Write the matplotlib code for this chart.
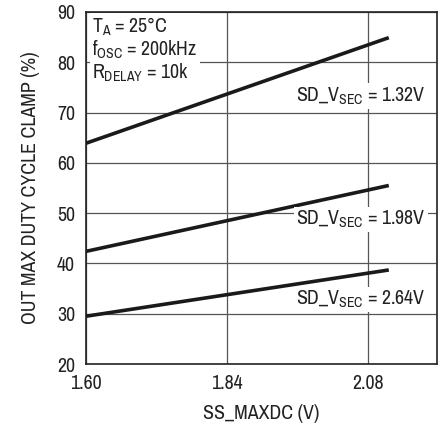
import matplotlib
matplotlib.use("Agg")
import numpy as np
from matplotlib import pyplot as plt
from matplotlib import font_manager

# data
ss_maxdc = [1.60, 2.115]
clamp_132 = [63.9, 84.9]
clamp_198 = [42.4, 55.5]
clamp_264 = [29.5, 38.7]
labels = ['1.32V', '1.98V', '2.64V']
label_y = [73.3, 48.8, 32.8]

names = {f.name for f in font_manager.fontManager.ttflist}
family = 'Liberation Sans'
for cand in ['Liberation Sans Narrow', 'Archivo Narrow', 'Roboto Condensed',
             'PT Sans Narrow', 'Arimo']:
    if cand in names:
        family = cand
        break
plt.rcParams['font.family'] = [family, 'DejaVu Sans']
plt.rcParams['mathtext.fontset'] = 'custom'
plt.rcParams['mathtext.rm'] = family
plt.rcParams['mathtext.it'] = family

FS = 14.3
TXT = '#222222'

fig = plt.figure(figsize=(4.45, 4.23), dpi=100)
ax = fig.add_axes([86 / 445, 1 - 364 / 423, 351 / 445, 352 / 423])

ax.set_xlim(1.60, 2.197)
ax.set_ylim(20, 90)
ax.set_xticks([1.60, 1.84, 2.08])
ax.set_xticklabels(['1.60', '1.84', '2.08'])
ax.set_yticks(np.arange(20, 91, 10))
ax.grid(True, color='#555555', linewidth=0.9)
ax.set_axisbelow(True)
ax.tick_params(axis='x', length=0, labelsize=FS, colors=TXT, pad=7)
ax.tick_params(axis='y', length=0, labelsize=FS, colors=TXT, pad=8)
for s in ax.spines.values():
    s.set_linewidth(1.2)
    s.set_color(TXT)

for y in (clamp_132, clamp_198, clamp_264):
    ax.plot(ss_maxdc, y, color='#1a1a1a', linewidth=2.6, solid_capstyle='butt', zorder=3)

box = dict(facecolor='white', edgecolor='none', pad=1.5)
for lab, yy in zip(labels, label_y):
    ax.text(0.969, yy, r'SD_V$_{\mathrm{SEC}}$ = ' + lab, transform=ax.get_yaxis_transform(),
            ha='right', va='center', fontsize=FS, color=TXT, bbox=box, zorder=4)

ax.text(0.018, 0.99,
        'T$_{\\mathrm{A}}$ = 25°C\nf$_{\\mathrm{OSC}}$ = 200kHz\nR$_{\\mathrm{DELAY}}$ = 10k',
        transform=ax.transAxes, ha='left', va='top', fontsize=FS, color=TXT,
        linespacing=1.05, bbox=dict(facecolor='white', edgecolor='none', pad=2), zorder=4)

ax.set_xlabel('SS_MAXDC (V)', fontsize=FS, color=TXT, labelpad=8)
ax.set_ylabel('OUT MAX DUTY CYCLE CLAMP (%)', fontsize=FS, color=TXT, labelpad=12)

fig.savefig('out.png', dpi=100)
